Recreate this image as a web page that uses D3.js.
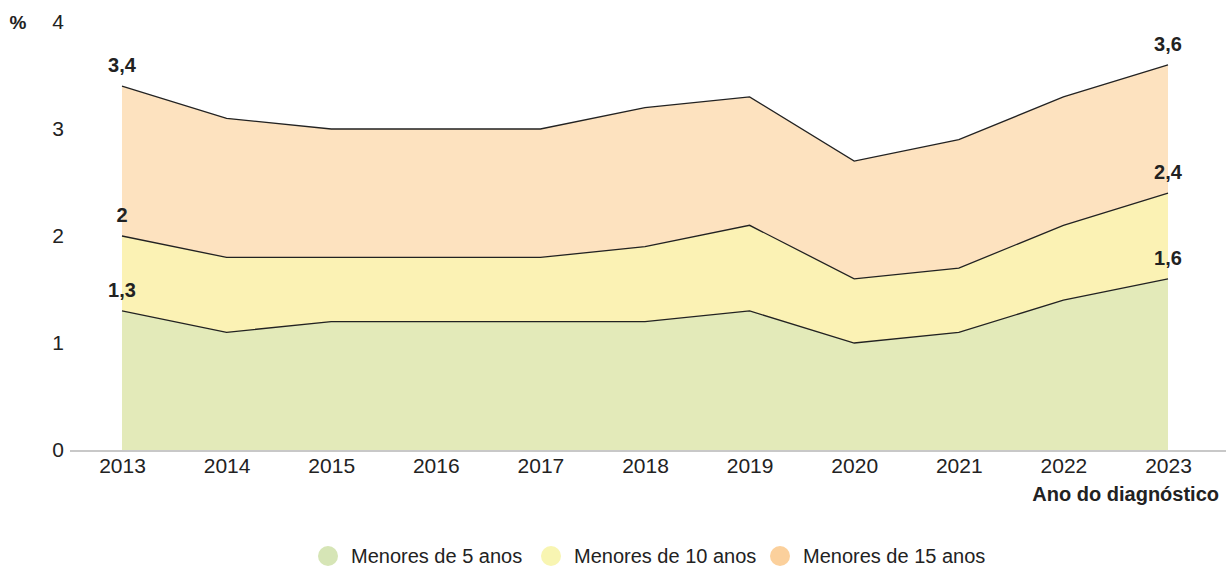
<!DOCTYPE html>
<html>
<head>
<meta charset="utf-8">
<script src="https://cdn.jsdelivr.net/npm/d3@7"></script>
<style>
  body { margin: 0; background: #fff; }
  svg { display: block; font-family: "Liberation Sans Narrow", "Liberation Sans", Arial, sans-serif; }
</style>
</head>
<body>
<script>
var years = [2013, 2014, 2015, 2016, 2017, 2018, 2019, 2020, 2021, 2022, 2023];
var menores5  = [1.3, 1.1, 1.2, 1.2, 1.2, 1.2, 1.3, 1.0, 1.1, 1.4, 1.6];
var menores10 = [2.0, 1.8, 1.8, 1.8, 1.8, 1.9, 2.1, 1.6, 1.7, 2.1, 2.4];
var menores15 = [3.4, 3.1, 3.0, 3.0, 3.0, 3.2, 3.3, 2.7, 2.9, 3.3, 3.6];
var seriesNames = ["Menores de 5 anos", "Menores de 10 anos", "Menores de 15 anos"];
var yTicks = [0, 1, 2, 3, 4];

var width = 1226, height = 570;

var svg = d3.select("body").append("svg")
    .attr("width", width)
    .attr("height", height);

var x = d3.scaleLinear().domain([2013, 2023]).range([122, 1168]);
var y = d3.scaleLinear().domain([0, 4]).range([450, 22]);

// series drawn from biggest to smallest so they overlap
var series = [
  {name: seriesNames[2], values: menores15, fill: "#fde2bf", legend: "#fbd09c"},
  {name: seriesNames[1], values: menores10, fill: "#fbf2b4", legend: "#f8f5b2"},
  {name: seriesNames[0], values: menores5,  fill: "#e3eab9", legend: "#d6e5b6"}
];

var area = d3.area()
    .x(function(d, i) { return x(years[i]); })
    .y0(y(0))
    .y1(function(d) { return y(d); });

var line = d3.line()
    .x(function(d, i) { return x(years[i]); })
    .y(function(d) { return y(d); });

svg.selectAll("path.area")
    .data(series)
    .enter().append("path")
    .attr("class", "area")
    .attr("d", function(s) { return area(s.values); })
    .style("fill", function(s) { return s.fill; });

svg.selectAll("path.line")
    .data(series)
    .enter().append("path")
    .attr("class", "line")
    .attr("d", function(s) { return line(s.values); })
    .style("fill", "none")
    .style("stroke", "#222")
    .style("stroke-width", 1.3);

// x axis
var xAxis = d3.axisBottom(x)
    .tickValues(years)
    .tickFormat(d3.format("d"))
    .tickSize(0)
    .tickPadding(8);

var gx = svg.append("g")
    .attr("transform", "translate(0," + y(0) + ")")
    .call(xAxis);
gx.select(".domain").remove();
gx.selectAll("text")
    .style("font-size", "21px")
    .style("fill", "#222");

svg.append("line")
    .attr("x1", 70).attr("x2", width)
    .attr("y1", y(0) + 1).attr("y2", y(0) + 1)
    .style("stroke", "#c8c8c8")
    .style("stroke-width", 2);

// y axis
var yAxis = d3.axisLeft(y)
    .tickValues(yTicks)
    .tickFormat(d3.format("d"))
    .tickSize(0)
    .tickPadding(0);

var gy = svg.append("g")
    .attr("transform", "translate(64,0)")
    .call(yAxis);
gy.select(".domain").remove();
gy.selectAll("text")
    .style("font-size", "21px")
    .style("fill", "#222");

svg.append("text")
    .attr("x", 18).attr("y", 22)
    .attr("dy", "0.35em")
    .attr("text-anchor", "middle")
    .style("font-size", "19px")
    .style("font-weight", "bold")
    .style("fill", "#222")
    .text("%");

svg.append("text")
    .attr("x", 1219).attr("y", 494)
    .attr("dy", "0.35em")
    .attr("text-anchor", "end")
    .style("font-size", "20px")
    .style("font-weight", "bold")
    .style("fill", "#222")
    .text("Ano do diagnóstico");

// value labels at first and last year
var fmt = function(v) { return String(v).replace(".", ","); };
var ends = [0, years.length - 1];
series.forEach(function(s) {
  ends.forEach(function(i) {
    svg.append("text")
      .attr("x", x(years[i]))
      .attr("y", y(s.values[i]) - 21)
      .attr("dy", "0.35em")
      .attr("text-anchor", "middle")
      .style("font-size", "20px")
      .style("font-weight", "bold")
      .style("fill", "#222")
      .text(fmt(s.values[i]));
  });
});

// legend
var legendX = [328, 551, 780];
var legend = svg.selectAll("g.legend")
    .data(series.slice().reverse())
    .enter().append("g")
    .attr("class", "legend")
    .attr("transform", function(d, i) { return "translate(" + legendX[i] + ",556)"; });

legend.append("circle")
    .attr("r", 10)
    .style("fill", function(d) { return d.legend; });

legend.append("text")
    .attr("x", 23)
    .attr("dy", "0.35em")
    .style("font-size", "20px")
    .style("fill", "#222")
    .text(function(d) { return d.name; });
</script>
</body>
</html>
